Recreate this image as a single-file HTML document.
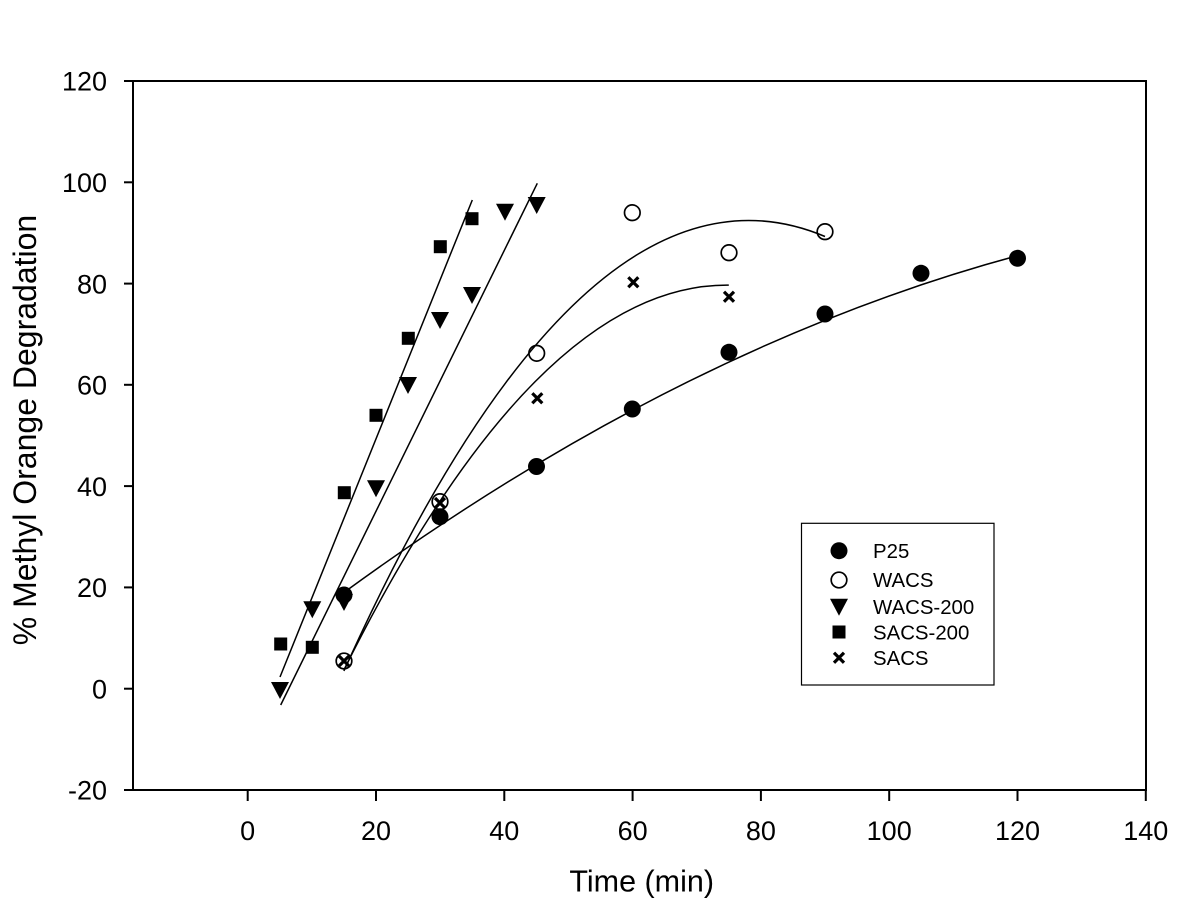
<!DOCTYPE html>
<html>
<head>
<meta charset="utf-8">
<style>
html,body{margin:0;padding:0;background:#fff;}
svg{display:block;}
text{font-family:"Liberation Sans",Arial,sans-serif;fill:#000;}
</style>
</head>
<body>
<svg width="1189" height="909" viewBox="0 0 1189 909" xmlns="http://www.w3.org/2000/svg">
<rect x="0" y="0" width="1189" height="909" fill="#fff"/>

<!-- frame -->
<rect x="133" y="81" width="1013" height="709" fill="none" stroke="#000" stroke-width="2"/>

<!-- y ticks -->
<g stroke="#000" stroke-width="2">
<line x1="124" y1="81" x2="133" y2="81"/>
<line x1="124" y1="182.3" x2="133" y2="182.3"/>
<line x1="124" y1="283.6" x2="133" y2="283.6"/>
<line x1="124" y1="384.8" x2="133" y2="384.8"/>
<line x1="124" y1="486.1" x2="133" y2="486.1"/>
<line x1="124" y1="587.4" x2="133" y2="587.4"/>
<line x1="124" y1="688.7" x2="133" y2="688.7"/>
<line x1="124" y1="790" x2="133" y2="790"/>
</g>
<!-- x ticks -->
<g stroke="#000" stroke-width="2">
<line x1="247.7" y1="790" x2="247.7" y2="801"/>
<line x1="376" y1="790" x2="376" y2="801"/>
<line x1="504.3" y1="790" x2="504.3" y2="801"/>
<line x1="632.6" y1="790" x2="632.6" y2="801"/>
<line x1="760.9" y1="790" x2="760.9" y2="801"/>
<line x1="889.2" y1="790" x2="889.2" y2="801"/>
<line x1="1017.5" y1="790" x2="1017.5" y2="801"/>
<line x1="1145.8" y1="790" x2="1145.8" y2="801"/>
</g>

<!-- y tick labels -->
<g font-size="27" text-anchor="end">
<text x="107" y="90.7">120</text>
<text x="107" y="192">100</text>
<text x="107" y="293.3">80</text>
<text x="107" y="394.5">60</text>
<text x="107" y="495.8">40</text>
<text x="107" y="597.1">20</text>
<text x="107" y="698.4">0</text>
<text x="107" y="799.7">-20</text>
</g>
<!-- x tick labels -->
<g font-size="27" text-anchor="middle">
<text x="247.7" y="840">0</text>
<text x="376" y="840">20</text>
<text x="504.3" y="840">40</text>
<text x="632.6" y="840">60</text>
<text x="760.9" y="840">80</text>
<text x="889.2" y="840">100</text>
<text x="1017.5" y="840">120</text>
<text x="1145.8" y="840">140</text>
</g>

<!-- axis titles -->
<text x="641.7" y="891.7" font-size="30.5" text-anchor="middle">Time (min)</text>
<text transform="translate(36,430) rotate(-90)" font-size="32" text-anchor="middle">% Methyl Orange Degradation</text>

<!-- fit lines -->
<g fill="none" stroke="#000" stroke-width="1.5">
<line x1="280" y1="677" x2="472.3" y2="200"/>
<line x1="280.7" y1="705" x2="537.3" y2="183.3"/>
<path d="M343.9,592.5 Q680.7,346.6 1017.5,255.7"/>
<path d="M343.9,671 Q584.5,135.4 825,236.5"/>
<path d="M343.9,670 Q536.4,283.2 728.8,285.1"/>
</g>

<!-- SACS-200 squares -->
<g fill="#000">
<rect x="274.2" y="637.5" width="13" height="13"/>
<rect x="305.8" y="640.8" width="13" height="13"/>
<rect x="337.8" y="486.2" width="13" height="13"/>
<rect x="369.5" y="408.8" width="13" height="13"/>
<rect x="401.8" y="331.8" width="13" height="13"/>
<rect x="433.8" y="240.2" width="13" height="13"/>
<rect x="465.5" y="212.2" width="13" height="13"/>
</g>

<!-- WACS-200 triangles -->
<g fill="#000">
<polygon points="271,682 289,682 280,699"/>
<polygon points="303.3,601.3 321.3,601.3 312.3,618.3"/>
<polygon points="335,594 353,594 344,611"/>
<polygon points="367,480.3 385,480.3 376,497.3"/>
<polygon points="399,377 417,377 408,394"/>
<polygon points="431,312 449,312 440,329"/>
<polygon points="463,287 481,287 472,304"/>
<polygon points="496,203.7 514,203.7 505,220.7"/>
<polygon points="527.7,197 545.7,197 536.7,214"/>
</g>

<!-- P25 filled circles -->
<g fill="#000">
<circle cx="344" cy="595" r="8.5"/>
<circle cx="440" cy="516.7" r="8.5"/>
<circle cx="536.5" cy="466.5" r="8.5"/>
<circle cx="632.3" cy="409" r="8.5"/>
<circle cx="729" cy="352.3" r="8.5"/>
<circle cx="825" cy="314" r="8.5"/>
<circle cx="921" cy="273.3" r="8.5"/>
<circle cx="1017.5" cy="258.3" r="8.5"/>
</g>

<!-- WACS open circles -->
<g fill="none" stroke="#000" stroke-width="1.7">
<circle cx="344" cy="661" r="7.8"/>
<circle cx="440" cy="501.7" r="7.8"/>
<circle cx="536.7" cy="353.3" r="7.8"/>
<circle cx="632.3" cy="212.7" r="7.8"/>
<circle cx="729" cy="252.7" r="7.8"/>
<circle cx="825" cy="231.7" r="7.8"/>
</g>

<!-- SACS x marks -->
<g stroke="#000" stroke-width="3.2" stroke-linecap="butt">
<path d="M339,656 L349,666 M349,656 L339,666"/>
<path d="M435,498 L445,508 M445,498 L435,508"/>
<path d="M532.3,393.3 L542.3,403.3 M542.3,393.3 L532.3,403.3"/>
<path d="M628.3,277.3 L638.3,287.3 M638.3,277.3 L628.3,287.3"/>
<path d="M724,291.7 L734,301.7 M734,291.7 L724,301.7"/>
</g>

<!-- legend -->
<rect x="801.5" y="523.3" width="192.5" height="161.7" fill="#fff" stroke="#000" stroke-width="1.2"/>
<circle cx="839" cy="550.7" r="8.5" fill="#000"/>
<circle cx="839" cy="580" r="7.8" fill="none" stroke="#000" stroke-width="1.7"/>
<polygon points="830,598.7 848,598.7 839,615.7" fill="#000"/>
<rect x="832.5" y="625.5" width="13" height="13" fill="#000"/>
<path d="M834,652.7 L844,662.7 M844,652.7 L834,662.7" stroke="#000" stroke-width="3.2"/>
<g font-size="20.4">
<text x="873" y="557.8">P25</text>
<text x="873" y="587.1">WACS</text>
<text x="873" y="613.8">WACS-200</text>
<text x="873" y="639.3">SACS-200</text>
<text x="873" y="664.8">SACS</text>
</g>
</svg>
</body>
</html>
